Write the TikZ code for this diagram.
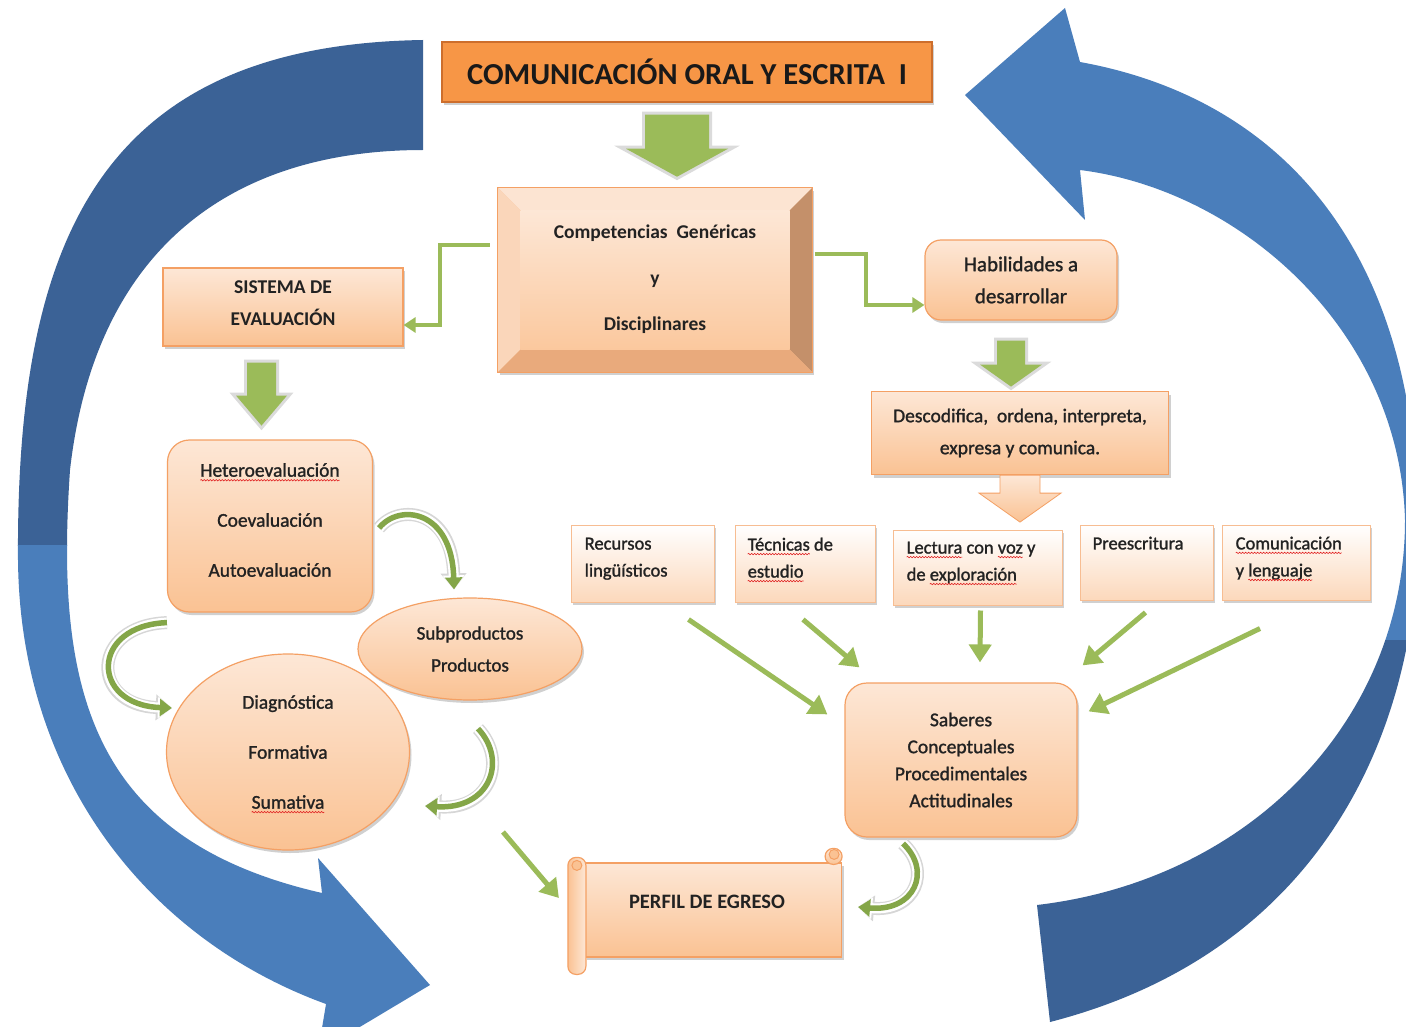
\documentclass[tikz,border=0pt]{standalone}
\usepackage{fontspec}
\setmainfont{Carlito}
\newfontfamily\mw{Carlito}[FakeBold=1.3]
\usetikzlibrary{shapes.geometric,arrows.meta,shadows,decorations.pathmorphing}
\definecolor{ttl}{HTML}{F79646}
\definecolor{ttlb}{HTML}{CD6E2C}
\definecolor{pka}{HTML}{FDE7D6}
\definecolor{pkc}{HTML}{FAC293}
\definecolor{pkb}{HTML}{F4A064}
\definecolor{grn}{HTML}{9BBB59}
\definecolor{grnd}{HTML}{84A648}
\definecolor{bld}{HTML}{3B6296}
\definecolor{bll}{HTML}{4A7EBB}
\definecolor{txt}{HTML}{222222}
\definecolor{wavered}{HTML}{E02020}
\definecolor{fct}{HTML}{FCE4D2}
\definecolor{fcl}{HTML}{FAD6BA}
\definecolor{fcr}{HTML}{C4906A}
\definecolor{fcb}{HTML}{E9AA7C}
\newcommand\fs[2]{\fontsize{#1}{#2}\selectfont}
\newsavebox\sebox
\newcommand\spellerr[1]{\sbox\sebox{#1}\leavevmode\rlap{\usebox\sebox}\tikz[baseline=0pt,x=1pt,y=1pt]{\useasboundingbox (0pt,0pt) rectangle ({\the\wd\sebox},1pt);\draw[wavered,line width=.6pt,decorate,decoration={snake,amplitude=.7pt,segment length=3pt}] (0pt,-3.5pt) -- ({\the\wd\sebox},-3.5pt);}}
\tikzset{
 shad/.style={drop shadow={shadow xshift=2pt,shadow yshift=-3pt,opacity=.3,fill=black!60}},
 pbox/.style={shad, rectangle, top color=pka, bottom color=pkc, draw=pkb, line width=1.2pt, inner sep=0pt, align=center, text=txt},
 pell/.style={pbox, ellipse},
 sbox/.style={shad, rectangle, top color=white, bottom color=pka!60!pkc, draw=pkb!70, line width=1pt, inner sep=0pt},
 tnode/.style={inner sep=0pt, align=center, text=txt},
 stxt/.style={inner sep=0pt, align=left, text=txt, font=\mw\fs{18.5}{27}, anchor=north west},
 gblock/.style={fill=grn, preaction={draw=black!14, line width=6pt, line join=miter}},
 elbow/.style={draw=grn, line width=4pt, -{Triangle[length=12pt,width=15pt]}},
 sarrow/.style={draw=grn, line width=5pt, -{Triangle[length=18pt,width=22pt]}},
 carrow/.style={draw=grnd, line width=5.5pt, -{Triangle[length=12pt,width=17pt]},
   preaction={draw=black!16, line width=13pt, -{Triangle[length=16pt,width=25pt]}},
   preaction={draw=white, line width=10pt, -{Triangle[length=14pt,width=21pt]}}},
 leftblue/.style={insert path={(423,40) -- (423,150) .. controls (230,150) and (95,250) .. (70,470) .. controls (55,690) and (90,840) .. (322,893) -- (318,858) -- (430,985) -- (318,1052) -- (326,1004) .. controls (150,940) and (20,780) .. (18,560) .. controls (16,240) and (100,45) .. (423,40) -- cycle}},
 rightblue/.style={insert path={(965,95) -- (1065,8) -- (1080,62) .. controls (1290,100) and (1418,260) .. (1418,530) .. controls (1418,720) and (1330,950) .. (1050,1022) -- (1037,905) .. controls (1250,880) and (1405,720) .. (1405,520) .. controls (1400,330) and (1240,190) .. (1080,170) -- (1085,220) -- cycle}},
}
\begin{document}
\begin{tikzpicture}[x=1pt,y=-1pt]
\useasboundingbox (0,0) rectangle (1406,1027);
\fill[white] (0,0) rectangle (1406,1027);
\clip (0,0) rectangle (1406,1027);
% blue cycle arrows
\begin{scope}
 \clip (0,0) rectangle (700,545);
 \fill[bld, leftblue];
\end{scope}
\begin{scope}
 \clip (0,545) rectangle (700,1027);
 \fill[bll, leftblue];
\end{scope}
\begin{scope}
 \clip (700,0) rectangle (1406,640);
 \fill[bll, rightblue];
\end{scope}
\begin{scope}
 \clip (700,640) rectangle (1406,1027);
 \fill[bld, rightblue];
\end{scope}

% nodes
\node[shad, fill=ttl, draw=ttlb, line width=1.5pt, minimum width=490, minimum height=60, inner sep=0pt, text=black!90, font=\bfseries\fs{30.5}{34}] (title) at (687,72) {COMUNICACIÓN ORAL Y ESCRITA\ \ I};

\node[shad, fill=pkc, draw=pkb, line width=1pt, minimum width=314, minimum height=184, inner sep=0pt] (comp) at (655,280) {};
\coordinate (ci1) at ([shift={(23,23)}]comp.north west);
\coordinate (ci2) at ([shift={(-23,23)}]comp.north east);
\coordinate (ci3) at ([shift={(-23,-23)}]comp.south east);
\coordinate (ci4) at ([shift={(23,-23)}]comp.south west);
\fill[fct] (comp.north west) -- (comp.north east) -- (ci2) -- (ci1) -- cycle;
\fill[fcl] (comp.north west) -- (ci1) -- (ci4) -- (comp.south west) -- cycle;
\fill[fcr] (comp.north east) -- (comp.south east) -- (ci3) -- (ci2) -- cycle;
\fill[fcb] (comp.south west) -- (ci4) -- (ci3) -- (comp.south east) -- cycle;
\shade[top color=pka, bottom color=pkc!90] (ci1) rectangle (ci3);
\draw[pkb, line width=1.2pt] (comp.north west) rectangle (comp.south east);
\node[tnode, font=\bfseries\fs{19.5}{46}] (compt) at (655,279) {Competencias\ \ Genéricas\\y\\Disciplinares};

\node[pbox, minimum width=240, minimum height=78] (sist) at (283,307) {};
\node[tnode, font=\bfseries\fs{19.5}{32}] (sistt) at (283,303) {SISTEMA DE\\EVALUACIÓN};

\node[pbox, rounded corners=22, minimum width=205, minimum height=172] (het) at (270,526) {};
\node[tnode, font=\mw\fs{19.5}{50}] (hett) at (270,520) {\spellerr{Heteroevaluación}\\Coevaluación\\Autoevaluación};

\node[pell, minimum width=224, minimum height=102, font=\mw\fs{19}{32}] (sub) at (470,649) {Subproductos\\Productos};
\node[pell, minimum width=243, minimum height=196, font=\mw\fs{19.5}{50}] (diag) at (288,752) {Diagnóstica\\Formativa\\\spellerr{Sumativa}};

\node[pbox, rounded corners=16, minimum width=192, minimum height=80, font=\mw\fs{21}{32}] (hab) at (1021,280) {Habilidades a\\desarrollar};
\node[pbox, minimum width=297, minimum height=83, font=\mw\fs{19.5}{32}] (desc) at (1020,433) {Descodifica,\ \ ordena, interpreta,\\expresa y comunica.};

\node[sbox, minimum width=143, minimum height=77] (rec) at (642.5,563.5) {};
\node[stxt] (rect) at ([shift={(14,13)}]rec.north west) {Recursos\\lingüísticos};
\node[sbox, minimum width=140, minimum height=77] (tec) at (805,563.5) {};
\node[stxt] (tect) at ([shift={(13,13)}]tec.north west) {\spellerr{Técnicas} de\\\spellerr{estudio}};
\node[sbox, minimum width=169, minimum height=75] (lec) at (977.5,567.5) {};
\node[stxt] (lect) at ([shift={(14,12)}]lec.north west) {\spellerr{Lectura} con \spellerr{voz} y\\de \spellerr{exploración}};
\node[sbox, minimum width=133, minimum height=75] (pre) at (1146.5,562.5) {};
\node[stxt] (pret) at ([shift={(13,12)}]pre.north west) {Preescritura};
\node[sbox, minimum width=148, minimum height=75] (com) at (1296,562.5) {};
\node[stxt] (comt) at ([shift={(14,12)}]com.north west) {\spellerr{Comunicación}\\y \spellerr{lenguaje}};

\node[pbox, rounded corners=22, minimum width=232, minimum height=154, font=\mw\fs{19.5}{27}] (sab) at (961,760) {Saberes\\Conceptuales\\Procedimentales\\Actitudinales};

% scroll
\node[pbox, minimum width=257, minimum height=94] (perfil) at (713,910) {};
\draw[pkb, line width=1.2pt, top color=pka, bottom color=pkc, rounded corners=8] ([shift={(-17,-14)}]perfil.north east) rectangle ([shift={(0,2)}]perfil.north east);
\draw[pkb, line width=1pt, fill=pkc] ([shift={(-8,-8)}]perfil.north east) circle (5);
\draw[pkb, line width=1.2pt, left color=pkc, right color=pka, rounded corners=8] ([shift={(-16,-5)}]perfil.north west) rectangle ([shift={(2,112)}]perfil.north west);
\draw[pkb, line width=1pt, fill=pkc] ([shift={(-7,3)}]perfil.north west) circle (5);
\node[tnode, font=\bfseries\fs{20.5}{22}] (perft) at (707,902) {PERFIL DE EGRESO};

% block arrows
\path[gblock] ([shift={(-42,12)}]title.south) -- ++(64,0) -- ++(0,34) -- ++(19,0) -- ++(-51,28) -- ++(-51,-28) -- ++(19,0) -- cycle;
\path[gblock] ([shift={(-36,16)}]sist.south) -- ++(29,0) -- ++(0,33) -- ++(11,0) -- ++(-25.5,30) -- ++(-25.5,-30) -- ++(11,0) -- cycle;
\path[gblock] ([shift={(-24,20)}]hab.south) -- ++(28,0) -- ++(0,24) -- ++(17,0) -- ++(-31,22) -- ++(-31,-22) -- ++(17,0) -- cycle;
\draw[pkb, line width=0.8pt, top color=pka, bottom color=pkc] ([shift={(-20,0)}]desc.south) -- ++(40,0) -- ++(0,18) -- ++(21,0) -- ++(-41,29) -- ++(-41,-29) -- ++(21,0) -- cycle;

% elbow connectors
\draw[elbow] ([shift={(-8,-35)}]comp.west) -- ++(-50,0) |- ([shift={(0,18)}]sist.east);
\draw[elbow] ([shift={(2,-26)}]comp.east) -- ++(51,0) |- ([shift={(0,25)}]hab.west);

% straight arrows into Saberes and Perfil
\draw[sarrow] ([shift={(46,17)}]rec.south) -- ([shift={(-17,32)}]sab.north west);
\draw[sarrow] ([shift={(-2,17)}]tec.south) -- ([shift={(15,-15)}]sab.north west);
\draw[sarrow] ([shift={(3,5)}]lec.south) -- ([shift={(19,-20)}]sab.north);
\draw[sarrow] ([shift={(-1,12)}]pre.south) -- ([shift={(5,-17)}]sab.north east);
\draw[sarrow] ([shift={(-36,28)}]com.south) -- ([shift={(11,29)}]sab.north east);
\draw[sarrow] ([shift={(215,80)}]diag.center) -- ([shift={(-25,-12)}]perfil.west);

% curved arrows
\draw[carrow] ([shift={(6,2)}]het.east) .. controls +(20,-25) and +(-2,-80) .. ([shift={(-16,-8)}]sub.north);
\draw[carrow] ([shift={(0,10)}]het.south west) .. controls +(-77,3) and +(-82,-3) .. ([shift={(6,-44)}]diag.west);
\draw[carrow] ([shift={(8,28)}]sub.south) .. controls +(30,32) and +(65,4) .. ([shift={(15,54)}]diag.east);
\draw[carrow] ([shift={(-58,6)}]sab.south) .. controls +(29,27) and +(57,5) .. ([shift={(16,-3)}]perfil.east);
\end{tikzpicture}
\end{document}
